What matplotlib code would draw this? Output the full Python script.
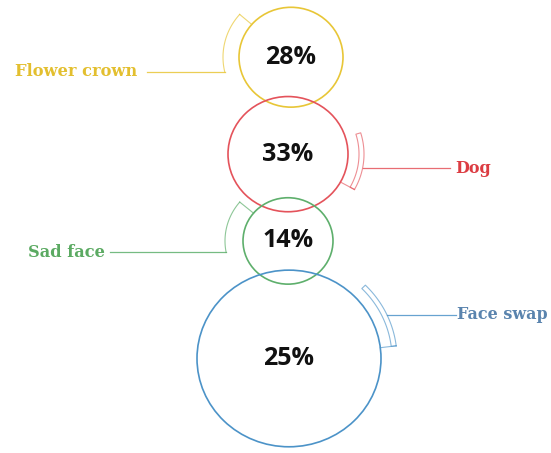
import numpy as np
from matplotlib import pyplot as plt
from matplotlib.patches import Ellipse

# data
labels = ["Flower crown", "Dog", "Sad face", "Face swap"]
shares = [28, 33, 14, 25]
bubble_size = [52, 60, 45, 92]
colors = ["#E8C637", "#E4535B", "#5EAF6C", "#4C93C8"]
text_colors = ["#E3BF2F", "#DC3C42", "#5BAA62", "#5A84AE"]

# layout (pixels)
W, H = 551, 453
squash = 0.96          # circles are slightly flattened in the original
center_x = [291, 288, 288, 289]
first_top = 7.3
overlaps = [10.6, 14, 14]
sides = ["left", "right", "left", "right"]
gaps = [16, 16, 18, 16]
arc_span = [(139, 193), (-29, 17), (140, 191), (7, 45)]
line_angle = [193, -11.2, 191, 25]
line_end = [147, 450, 110, 456]
label_pad = [10, 5, 5, 1]


def pt(cx, cy, r, a):
    a = np.radians(a)
    return cx + r * np.cos(a), cy - squash * r * np.sin(a)


fig = plt.figure(figsize=(W / 100, H / 100), dpi=100)
ax = fig.add_axes([0, 0, 1, 1])
ax.set_xlim(0, W)
ax.set_ylim(H, 0)
ax.axis('off')

top = first_top
for i, lab in enumerate(labels):
    r = bubble_size[i]
    cx = center_x[i]
    cy = top + squash * r
    if i < len(overlaps):
        top = cy + squash * r - overlaps[i]
    col = colors[i]

    ax.add_patch(Ellipse((cx, cy), 2 * r, 2 * r * squash, fill=False, ec=col, lw=1.2))
    ax.text(cx, cy, f"{shares[i]}%", ha='center', va='center',
            fontsize=18, fontweight='bold', family='Open Sans', color='#111111')

    a1, a2 = arc_span[i]
    aa = np.linspace(a1, a2, 60)
    if sides[i] == "left":
        R = r + gaps[i]
        xs, ys = pt(cx, cy, R, aa)
        ax.plot(xs, ys, color=col, lw=0.8, alpha=0.7)
        tx, ty = pt(cx, cy, np.array([r, R]), a1)
        ax.plot(tx, ty, color=col, lw=0.8, alpha=0.7)
        lx, ly = pt(cx, cy, R, line_angle[i])
        ax.plot([lx, line_end[i]], [ly, ly], color=col, lw=0.9, alpha=0.85)
        ax.text(line_end[i] - label_pad[i], ly, lab, ha='right', va='center', fontsize=11.7,
                fontweight='bold', family='DejaVu Serif', color=text_colors[i])
    else:
        Ro = r + gaps[i]
        Ri = Ro - 5
        ox, oy = pt(cx, cy, Ro, aa)
        ix, iy = pt(cx, cy, Ri, aa[::-1])
        xs = np.concatenate([ox, ix, ox[:1]])
        ys = np.concatenate([oy, iy, oy[:1]])
        ax.plot(xs, ys, color=col, lw=0.8, alpha=0.65)
        tx, ty = pt(cx, cy, np.array([r, Ro]), a1)
        ax.plot(tx, ty, color=col, lw=0.8, alpha=0.65)
        lx, ly = pt(cx, cy, Ro, line_angle[i])
        ax.plot([lx, line_end[i]], [ly, ly], color=col, lw=0.9, alpha=0.85)
        ax.text(line_end[i] + label_pad[i], ly, lab, ha='left', va='center', fontsize=11.5,
                fontweight='bold', family='DejaVu Serif', color=text_colors[i])

fig.savefig("out.png", dpi=100, facecolor='white')
